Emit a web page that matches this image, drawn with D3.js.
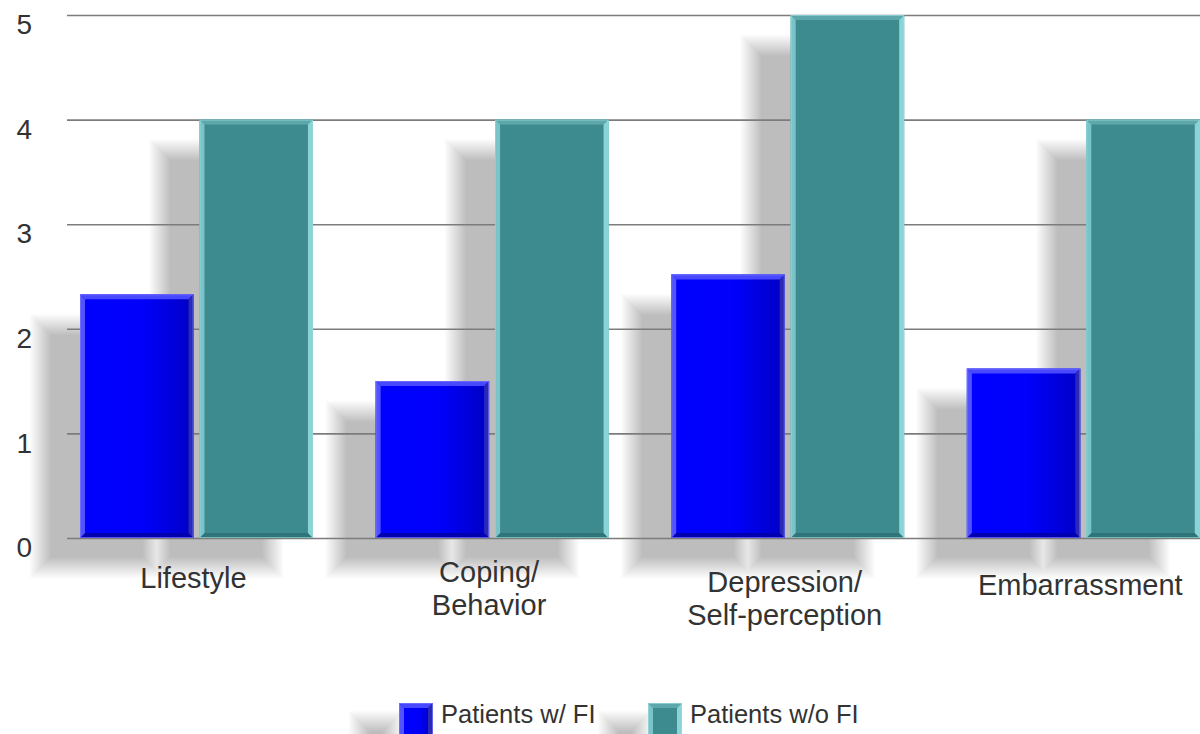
<!DOCTYPE html>
<html>
<head>
<meta charset="utf-8">
<script src="https://cdn.jsdelivr.net/npm/d3@7"></script>
<style>
  html, body { margin: 0; padding: 0; background: #fff; }
  svg { display: block; }
  text { font-family: "Liberation Sans", Arial, sans-serif; fill: #333; }
</style>
</head>
<body>
<svg id="chart" width="1200" height="734"></svg>
<script>
// Mean score by quality-of-life domain
const categories = [["Lifestyle"], ["Coping/", "Behavior"], ["Depression/", "Self-perception"], ["Embarrassment"]];
const seriesNames = ["Patients w/ FI", "Patients w/o FI"];
const withFI = [2.33, 1.5, 2.52, 1.62];
const withoutFI = [4, 4, 5, 4];
const yTicks = [0, 1, 2, 3, 4, 5];

const seriesValues = [withFI, withoutFI];
const rows = categories.map((c, i) => ({ i, label: c, values: seriesValues.map((v, s) => ({ s, v: v[i] })) }));

const W = 1200, H = 734;
const svg = d3.select("#chart");
const defs = svg.append("defs");

// blue face: bright on the left, darkening to the right
const gBlue = defs.append("linearGradient").attr("id", "blueFace").attr("x1", 0).attr("x2", 1).attr("y1", 0).attr("y2", 0);
gBlue.append("stop").attr("offset", "0%").attr("stop-color", "#0000ff");
gBlue.append("stop").attr("offset", "55%").attr("stop-color", "#0000fb");
gBlue.append("stop").attr("offset", "100%").attr("stop-color", "#0000c4");

const palette = [
  { face: "url(#blueFace)", left: "#5252ff", top: "#4848ff", right: "#2a2ab6", bottom: "#0000b0", edge: "#7a7aff" },
  { face: "#3d8a8f", left: "#79c4c8", top: "#5ea7ab", right: "#8ad3d7", bottom: "#2e7478", edge: "#9ad8dc" }
];

const y = d3.scaleLinear().domain([0, 5]).range([538, 15]);
const x0 = d3.scaleBand().domain(d3.range(categories.length)).range([48.7, 1231.1])
  .paddingInner(0.212).paddingOuter(0.106);
const x1 = d3.scaleBand().domain(d3.range(seriesNames.length)).range([0, x0.bandwidth()])
  .paddingInner(0.05).paddingOuter(0);

// soft drop shadows cast down and to the left: a stack of faint layers,
// each grown a little more than the last, builds the feathered edge.
// Every layer is one path, so overlapping shadows are painted only once per layer.
const shadowDx = -40, shadowDy = 30;
const legendItems = [{ x: 399, tx: 441 }, { x: 648, tx: 690 }];
const shadowRects = [];
rows.forEach(r => r.values.forEach(d => {
  shadowRects.push({ x: x0(r.i) + x1(d.s), y: y(d.v), w: x1.bandwidth(), h: y(0) - y(d.v) });
}));
legendItems.forEach(it => shadowRects.push({ x: it.x, y: 691, w: 34, h: 40 }));

const shadowAlpha = 0.24, featherSteps = 22, feather = 11;
const layerAlpha = 1 - Math.pow(1 - shadowAlpha, 1 / featherSteps);
const shadowLayer = svg.append("g").attr("transform", `translate(${shadowDx},${shadowDy})`);
d3.range(featherSteps).forEach(k => {
  const grow = -feather + (2 * feather) * (k + 0.5) / featherSteps;
  const p = d3.path();
  shadowRects.forEach(d => {
    const w = d.w + 2 * grow, h = d.h + 2 * grow;
    if (w > 0 && h > 0) p.rect(d.x - grow, d.y - grow, w, h);
  });
  shadowLayer.append("path").attr("d", p.toString())
    .attr("fill", "#000").attr("fill-opacity", layerAlpha).attr("fill-rule", "nonzero");
});

// gridlines and y axis labels
const axisLeft = 67;
const yAxis = d3.axisLeft(y).tickValues(yTicks).tickSize(-(W - axisLeft)).tickPadding(35)
  .tickFormat(d3.format("d"));
const ga = svg.append("g").attr("transform", `translate(${axisLeft},0)`).call(yAxis);
ga.select(".domain").remove();
ga.selectAll(".tick line").attr("stroke", "#7c7c7c").attr("stroke-width", 1.6);
ga.selectAll(".tick text").attr("font-size", 28).attr("dy", "0.67em")
  .attr("fill", "#333").style("font-family", "Liberation Sans, Arial, sans-serif");

// bevelled bars
function drawBar(g, x, yTop, w, h, p, bev) {
  const xr = x + w, yb = yTop + h;
  g.append("rect").attr("x", x).attr("y", yTop).attr("width", w).attr("height", h).attr("fill", p.face);
  const poly = (pts, fill) => g.append("polygon").attr("points", pts.map(q => q.join(",")).join(" ")).attr("fill", fill);
  poly([[x, yTop], [xr, yTop], [xr - bev, yTop + bev], [x + bev, yTop + bev]], p.top);
  poly([[x, yb], [xr, yb], [xr - bev, yb - bev], [x + bev, yb - bev]], p.bottom);
  poly([[x, yTop], [x + bev, yTop + bev], [x + bev, yb - bev], [x, yb]], p.left);
  poly([[xr, yTop], [xr - bev, yTop + bev], [xr - bev, yb - bev], [xr, yb]], p.right);
  g.append("rect").attr("x", x + 0.5).attr("y", yTop + 0.5).attr("width", w - 1).attr("height", h - 1)
    .attr("fill", "none").attr("stroke", p.edge).attr("stroke-width", 1).attr("stroke-opacity", 0.7);
}

const barLayer = svg.append("g");
rows.forEach(r => r.values.forEach(d => {
  drawBar(barLayer, x0(r.i) + x1(d.s), y(d.v), x1.bandwidth(), y(0) - y(d.v), palette[d.s], 5);
}));

// category labels, each block set on its own baseline
const labelBaseline = [588, 582, 592, 595];
const lineGap = 33;
const lab = svg.append("g");
rows.forEach(r => {
  const cx = x0(r.i) + x0.bandwidth() / 2 - 3;
  const t = lab.append("text").attr("text-anchor", "middle").attr("font-size", 29)
    .attr("x", cx).attr("y", labelBaseline[r.i]);
  r.label.forEach((line, k) => {
    t.append("tspan").attr("x", cx).attr("y", labelBaseline[r.i] + k * lineGap).text(line);
  });
});

// legend
const leg = svg.append("g");
seriesNames.forEach((name, s) => {
  const it = legendItems[s];
  drawBar(leg, it.x, 703, 34, 40, palette[s], 5);
  leg.append("text").attr("x", it.tx).attr("y", 723).attr("font-size", 25.5).text(name);
});
</script>
</body>
</html>
